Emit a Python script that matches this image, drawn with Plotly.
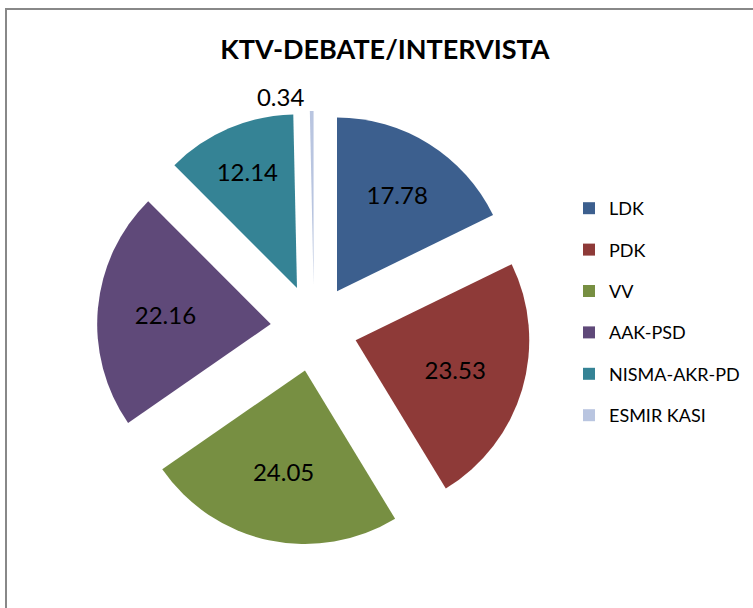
import plotly.graph_objects as go

# Data
parties = ['LDK', 'PDK', 'VV', 'AAK-PSD', 'NISMA-AKR-PD', 'ESMIR KASI']
shares = [17.78, 23.53, 24.05, 22.16, 12.14, 0.34]
colors = ['#3C5F8E', '#8E3A38', '#778F42', '#5F4979', '#358395', '#B9C5E0']
label_pos = ['inside', 'inside', 'inside', 'inside', 'inside', 'outside']

W, H = 753, 608
FONT = 'Lato, Calibri, Arial, sans-serif'

fig = go.Figure()

# Exploded pie
fig.add_trace(go.Pie(
    labels=parties,
    values=shares,
    text=[f'{v:.2f}' for v in shares],
    textinfo='text',
    textposition=label_pos,
    insidetextorientation='horizontal',
    textfont=dict(size=24, color='black', family=FONT),
    marker=dict(colors=colors, line=dict(width=0)),
    pull=[0.25] * len(shares),
    sort=False,
    direction='clockwise',
    rotation=0,
    showlegend=False,
    domain=dict(x=[97 / W, 531 / W], y=[1 - 545 / H, 1 - 111 / H]),
    hoverinfo='label+value',
))

# Legend entries (one group per party so the spacing can be set)
for name, col in zip(parties, colors):
    fig.add_trace(go.Scatter(
        x=[None], y=[None], mode='markers', name=name,
        marker=dict(symbol='square', size=12, color=col),
        legendgroup=name, showlegend=True,
    ))

fig.update_layout(
    width=W, height=H,
    margin=dict(l=0, r=0, t=0, b=0, autoexpand=False),
    paper_bgcolor='white',
    plot_bgcolor='white',
    font=dict(family=FONT, color='black'),
    title=dict(
        text='<b>KTV-DEBATE/INTERVISTA</b>',
        x=385 / W, xanchor='center',
        y=1 - 50 / H, yanchor='middle',
        font=dict(size=27, family=FONT, color='black'),
    ),
    xaxis=dict(visible=False),
    yaxis=dict(visible=False),
    legend=dict(
        x=569 / W, xanchor='left',
        y=1 - 190 / H, yanchor='top',
        font=dict(size=18, family=FONT, color='black'),
        tracegroupgap=15,
        itemclick=False,
        bgcolor='rgba(0,0,0,0)',
    ),
    shapes=[dict(
        type='rect', xref='paper', yref='paper',
        x0=6 / W, x1=1.05, y0=-0.05, y1=1 - 9 / H,
        line=dict(color='#888888', width=2),
        fillcolor='rgba(0,0,0,0)',
    )],
)

# drop the default page margin so the chart sits at the window's corner
fig.write_html('out.html', config={'displayModeBar': False},
               post_script="document.body.style.margin='0';")
